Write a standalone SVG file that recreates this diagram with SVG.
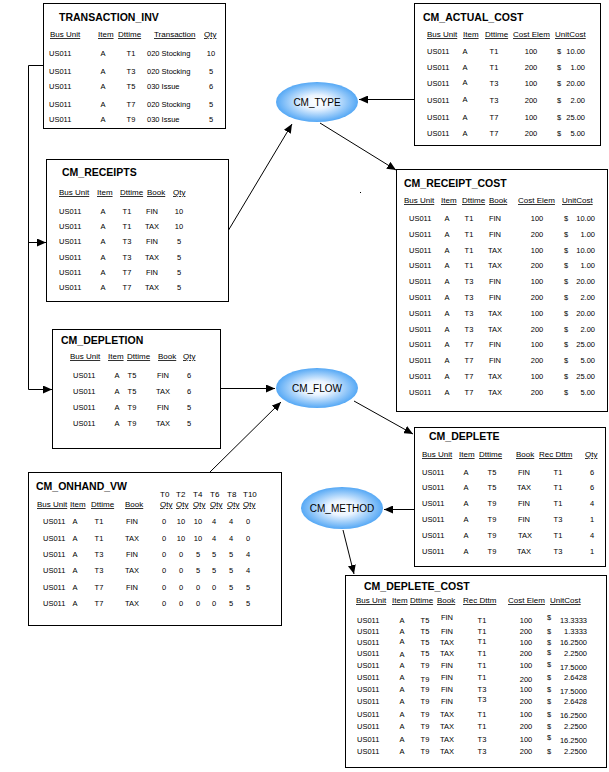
<svg xmlns="http://www.w3.org/2000/svg" width="609" height="772" viewBox="0 0 609 772">
<style>
text{font-family:"Liberation Sans",Arial,sans-serif;fill:#000}
.box{fill:#fff;stroke:#000;stroke-width:1}
.t{font-size:10.5px;font-weight:bold}
.h{font-size:8px;text-decoration:underline}
.h2{font-size:8px}
.d{font-size:7.5px}
.m{text-anchor:middle}
.e{text-anchor:end}
.el{font-size:10px;text-anchor:middle}
.c{fill:none;stroke:#000;stroke-width:1;marker-end:url(#ah)}
.oval{fill:url(#g);stroke:none}
</style>
<defs>
<radialGradient id="g" cx="50%" cy="50%" r="50%">
<stop offset="0" stop-color="#ffffff"/>
<stop offset="0.35" stop-color="#eaf4ff"/>
<stop offset="1" stop-color="#55a8f5"/>
</radialGradient>
<marker id="ah" markerUnits="userSpaceOnUse" markerWidth="9" markerHeight="8" refX="9" refY="4" orient="auto">
<path d="M0,0 L9,4 L0,8 z" fill="#000"/>
</marker>
</defs>
<rect width="609" height="772" fill="#fff"/>

<g id="connectors">
<path class="c" d="M43,65.5 H28.5 V389.5 H52"/>
<path class="c" d="M28.5,242.5 H46"/>
<path class="c" d="M414,99.5 H359"/>
<path class="c" d="M228,231 L292,124"/>
<path class="c" d="M320,123 L396,170"/>
<path class="c" d="M220,388.5 H275"/>
<path class="c" d="M210,472 L281,402"/>
<path class="c" d="M354,401 L413,434"/>
<path class="c" d="M414,509.5 H384"/>
<path class="c" d="M343,530 L354,574"/>
</g>
<rect x="360" y="192" width="1" height="1" fill="#000"/>

<g id="CM_TYPE">
<ellipse class="oval" cx="317" cy="102" rx="41" ry="20"/>
<text class="el" x="317" y="106">CM_TYPE</text>
</g>
<g id="CM_FLOW">
<ellipse class="oval" cx="317" cy="388" rx="41" ry="20"/>
<text class="el" x="317" y="392">CM_FLOW</text>
</g>
<g id="CM_METHOD">
<ellipse class="oval" cx="342" cy="508" rx="41" ry="21"/>
<text class="el" x="342" y="512">CM_METHOD</text>
</g>

<g id="TRANSACTION_INV">
<rect class="box" x="43.5" y="3.5" width="182" height="125"/>
<text class="t" x="59" y="21">TRANSACTION_INV</text>
<text class="h" x="50" y="37">Bus Unit</text><text class="h" x="98" y="37">Item</text><text class="h" x="118" y="37">Dttime</text><text class="h" x="154" y="37">Transaction</text><text class="h" x="204" y="37">Qty</text>
<text class="d" x="49" y="56">US011</text><text class="d m" x="103" y="56">A</text><text class="d m" x="131" y="56">T1</text><text class="d" x="147" y="56">020 Stocking</text><text class="d m" x="211" y="56">10</text>
<text class="d" x="49" y="74">US011</text><text class="d m" x="103" y="74">A</text><text class="d m" x="131" y="74">T3</text><text class="d" x="147" y="74">020 Stocking</text><text class="d m" x="211" y="74">5</text>
<text class="d" x="49" y="89">US011</text><text class="d m" x="103" y="89">A</text><text class="d m" x="131" y="89">T5</text><text class="d" x="147" y="89">030 Issue</text><text class="d m" x="211" y="89">6</text>
<text class="d" x="49" y="107">US011</text><text class="d m" x="103" y="107">A</text><text class="d m" x="131" y="107">T7</text><text class="d" x="147" y="107">020 Stocking</text><text class="d m" x="211" y="107">5</text>
<text class="d" x="49" y="122">US011</text><text class="d m" x="103" y="122">A</text><text class="d m" x="131" y="122">T9</text><text class="d" x="147" y="122">030 Issue</text><text class="d m" x="211" y="122">5</text>
</g>

<g id="CM_ACTUAL_COST">
<rect class="box" x="414.5" y="3.5" width="186" height="142"/>
<text class="t" x="423" y="21">CM_ACTUAL_COST</text>
<text class="h" x="427" y="37">Bus Unit</text><text class="h" x="463" y="37">Item</text><text class="h" x="485" y="37">Dttime</text><text class="h" x="513" y="37">Cost Elem</text><text class="h" x="555" y="37">UnitCost</text>
<text class="d" x="427" y="54">US011</text><text class="d m" x="465" y="54">A</text><text class="d m" x="494" y="54">T1</text><text class="d m" x="531" y="54">100</text><text class="d" x="557" y="54">$</text><text class="d e" x="585" y="54">10.00</text>
<text class="d" x="427" y="70">US011</text><text class="d m" x="465" y="70">A</text><text class="d m" x="494" y="70">T1</text><text class="d m" x="531" y="70">200</text><text class="d" x="557" y="70">$</text><text class="d e" x="585" y="70">1.00</text>
<text class="d" x="427" y="86">US011</text><text class="d m" x="465" y="85">A</text><text class="d m" x="494" y="86">T3</text><text class="d m" x="531" y="86">100</text><text class="d" x="557" y="86">$</text><text class="d e" x="585" y="86">20.00</text>
<text class="d" x="427" y="103">US011</text><text class="d m" x="465" y="102">A</text><text class="d m" x="494" y="103">T3</text><text class="d m" x="531" y="103">200</text><text class="d" x="557" y="103">$</text><text class="d e" x="585" y="103">2.00</text>
<text class="d" x="427" y="120">US011</text><text class="d m" x="465" y="120">A</text><text class="d m" x="494" y="120">T7</text><text class="d m" x="531" y="120">100</text><text class="d" x="557" y="120">$</text><text class="d e" x="585" y="120">25.00</text>
<text class="d" x="427" y="136">US011</text><text class="d m" x="465" y="136">A</text><text class="d m" x="494" y="136">T7</text><text class="d m" x="531" y="136">200</text><text class="d" x="557" y="136">$</text><text class="d e" x="585" y="136">5.00</text>
</g>

<g id="CM_RECEIPTS">
<rect class="box" x="46.5" y="159.5" width="182" height="142"/>
<text class="t" x="62" y="176">CM_RECEIPTS</text>
<text class="h" x="59" y="195">Bus Unit</text><text class="h" x="97" y="195">Item</text><text class="h" x="120" y="195">Dttime</text><text class="h" x="147" y="195">Book</text><text class="h" x="173" y="195">Qty</text>
<text class="d" x="59" y="214">US011</text><text class="d m" x="103" y="214">A</text><text class="d m" x="127" y="214">T1</text><text class="d m" x="152" y="214">FIN</text><text class="d m" x="179" y="214">10</text>
<text class="d" x="59" y="229">US011</text><text class="d m" x="103" y="229">A</text><text class="d m" x="127" y="229">T1</text><text class="d m" x="152" y="229">TAX</text><text class="d m" x="179" y="229">10</text>
<text class="d" x="59" y="244">US011</text><text class="d m" x="103" y="244">A</text><text class="d m" x="127" y="244">T3</text><text class="d m" x="152" y="244">FIN</text><text class="d m" x="179" y="244">5</text>
<text class="d" x="59" y="260">US011</text><text class="d m" x="103" y="260">A</text><text class="d m" x="127" y="260">T3</text><text class="d m" x="152" y="260">TAX</text><text class="d m" x="179" y="260">5</text>
<text class="d" x="59" y="275">US011</text><text class="d m" x="103" y="275">A</text><text class="d m" x="127" y="275">T7</text><text class="d m" x="152" y="275">FIN</text><text class="d m" x="179" y="275">5</text>
<text class="d" x="59" y="290">US011</text><text class="d m" x="103" y="290">A</text><text class="d m" x="127" y="290">T7</text><text class="d m" x="152" y="290">TAX</text><text class="d m" x="179" y="290">5</text>
</g>

<g id="CM_RECEIPT_COST">
<rect class="box" x="396.5" y="169.5" width="211" height="242"/>
<text class="t" x="404" y="187">CM_RECEIPT_COST</text>
<text class="h" x="404" y="203">Bus Unit</text><text class="h" x="441" y="203">Item</text><text class="h" x="462" y="203">Dttime</text><text class="h" x="489" y="203">Book</text><text class="h" x="518" y="203">Cost Elem</text><text class="h" x="562" y="203">UnitCost</text>
<text class="d" x="409" y="221">US011</text><text class="d m" x="447" y="221">A</text><text class="d m" x="469" y="221">T1</text><text class="d m" x="495" y="221">FIN</text><text class="d m" x="537" y="221">100</text><text class="d" x="564" y="221">$</text><text class="d e" x="595" y="221">10.00</text>
<text class="d" x="409" y="236.5">US011</text><text class="d m" x="447" y="236.5">A</text><text class="d m" x="469" y="236.5">T1</text><text class="d m" x="495" y="236.5">FIN</text><text class="d m" x="537" y="236.5">200</text><text class="d" x="564" y="236.5">$</text><text class="d e" x="595" y="236.5">1.00</text>
<text class="d" x="409" y="252.5">US011</text><text class="d m" x="447" y="252.5">A</text><text class="d m" x="469" y="252.5">T1</text><text class="d m" x="495" y="252.5">TAX</text><text class="d m" x="537" y="252.5">100</text><text class="d" x="564" y="252.5">$</text><text class="d e" x="595" y="252.5">10.00</text>
<text class="d" x="409" y="268">US011</text><text class="d m" x="447" y="268">A</text><text class="d m" x="469" y="268">T1</text><text class="d m" x="495" y="268">TAX</text><text class="d m" x="537" y="268">200</text><text class="d" x="564" y="268">$</text><text class="d e" x="595" y="268">1.00</text>
<text class="d" x="409" y="284">US011</text><text class="d m" x="447" y="284">A</text><text class="d m" x="469" y="284">T3</text><text class="d m" x="495" y="284">FIN</text><text class="d m" x="537" y="284">100</text><text class="d" x="564" y="284">$</text><text class="d e" x="595" y="284">20.00</text>
<text class="d" x="409" y="300">US011</text><text class="d m" x="447" y="300">A</text><text class="d m" x="469" y="300">T3</text><text class="d m" x="495" y="300">FIN</text><text class="d m" x="537" y="300">200</text><text class="d" x="564" y="300">$</text><text class="d e" x="595" y="300">2.00</text>
<text class="d" x="409" y="315.5">US011</text><text class="d m" x="447" y="315.5">A</text><text class="d m" x="469" y="315.5">T3</text><text class="d m" x="495" y="315.5">TAX</text><text class="d m" x="537" y="315.5">100</text><text class="d" x="564" y="315.5">$</text><text class="d e" x="595" y="315.5">20.00</text>
<text class="d" x="409" y="331.5">US011</text><text class="d m" x="447" y="331.5">A</text><text class="d m" x="469" y="331.5">T3</text><text class="d m" x="495" y="331.5">TAX</text><text class="d m" x="537" y="331.5">200</text><text class="d" x="564" y="331.5">$</text><text class="d e" x="595" y="331.5">2.00</text>
<text class="d" x="409" y="347">US011</text><text class="d m" x="447" y="347">A</text><text class="d m" x="469" y="347">T7</text><text class="d m" x="495" y="347">FIN</text><text class="d m" x="537" y="347">100</text><text class="d" x="564" y="347">$</text><text class="d e" x="595" y="347">25.00</text>
<text class="d" x="409" y="363">US011</text><text class="d m" x="447" y="363">A</text><text class="d m" x="469" y="363">T7</text><text class="d m" x="495" y="363">FIN</text><text class="d m" x="537" y="363">200</text><text class="d" x="564" y="363">$</text><text class="d e" x="595" y="363">5.00</text>
<text class="d" x="409" y="379">US011</text><text class="d m" x="447" y="379">A</text><text class="d m" x="469" y="379">T7</text><text class="d m" x="495" y="379">TAX</text><text class="d m" x="537" y="379">100</text><text class="d" x="564" y="379">$</text><text class="d e" x="595" y="379">25.00</text>
<text class="d" x="409" y="394.5">US011</text><text class="d m" x="447" y="394.5">A</text><text class="d m" x="469" y="394.5">T7</text><text class="d m" x="495" y="394.5">TAX</text><text class="d m" x="537" y="394.5">200</text><text class="d" x="564" y="394.5">$</text><text class="d e" x="595" y="394.5">5.00</text>
</g>

<g id="CM_DEPLETION">
<rect class="box" x="52.5" y="329.5" width="168" height="119"/>
<text class="t" x="61" y="344">CM_DEPLETION</text>
<text class="h" x="70" y="359">Bus Unit</text><text class="h" x="108" y="359">Item</text><text class="h" x="127" y="359">Dttime</text><text class="h" x="158" y="359">Book</text><text class="h" x="183" y="359">Qty</text>
<text class="d" x="73" y="377.5">US011</text><text class="d m" x="117" y="377.5">A</text><text class="d m" x="132" y="377.5">T5</text><text class="d m" x="163" y="377.5">FIN</text><text class="d m" x="189" y="377.5">6</text>
<text class="d" x="73" y="393.5">US011</text><text class="d m" x="117" y="393.5">A</text><text class="d m" x="132" y="393.5">T5</text><text class="d m" x="163" y="393.5">TAX</text><text class="d m" x="189" y="393.5">6</text>
<text class="d" x="73" y="409.5">US011</text><text class="d m" x="117" y="409.5">A</text><text class="d m" x="132" y="409.5">T9</text><text class="d m" x="163" y="409.5">FIN</text><text class="d m" x="189" y="409.5">5</text>
<text class="d" x="73" y="425.5">US011</text><text class="d m" x="117" y="425.5">A</text><text class="d m" x="132" y="425.5">T9</text><text class="d m" x="163" y="425.5">TAX</text><text class="d m" x="189" y="425.5">5</text>
</g>

<g id="CM_ONHAND_VW">
<rect class="box" x="28.5" y="472.5" width="253" height="153"/>
<text class="t" x="36" y="490">CM_ONHAND_VW</text>
<text class="h2" x="160" y="497">T0</text><text class="h2" x="176" y="497">T2</text><text class="h2" x="193" y="497">T4</text><text class="h2" x="210" y="497">T6</text><text class="h2" x="227" y="497">T8</text><text class="h2" x="243" y="497">T10</text>
<text class="h" x="37" y="507">Bus Unit</text><text class="h" x="70" y="507">Item</text><text class="h" x="91" y="507">Dttime</text><text class="h" x="125" y="507">Book</text>
<text class="h" x="160" y="507">Qty</text><text class="h" x="176" y="507">Qty</text><text class="h" x="193" y="507">Qty</text><text class="h" x="210" y="507">Qty</text><text class="h" x="227" y="507">Qty</text><text class="h" x="243" y="507">Qty</text>
<text class="d" x="43" y="524">US011</text><text class="d m" x="75" y="524">A</text><text class="d m" x="99" y="524">T1</text><text class="d m" x="132" y="524">FIN</text><text class="d m" x="164" y="524">0</text><text class="d m" x="181" y="524">10</text><text class="d m" x="198" y="524">10</text><text class="d m" x="214" y="524">4</text><text class="d m" x="231" y="524">4</text><text class="d m" x="248" y="524">0</text>
<text class="d" x="43" y="540.5">US011</text><text class="d m" x="75" y="540.5">A</text><text class="d m" x="99" y="540.5">T1</text><text class="d m" x="132" y="540.5">TAX</text><text class="d m" x="164" y="540.5">0</text><text class="d m" x="181" y="540.5">10</text><text class="d m" x="198" y="540.5">10</text><text class="d m" x="214" y="540.5">4</text><text class="d m" x="231" y="540.5">4</text><text class="d m" x="248" y="540.5">0</text>
<text class="d" x="43" y="557">US011</text><text class="d m" x="75" y="557">A</text><text class="d m" x="99" y="557">T3</text><text class="d m" x="132" y="557">FIN</text><text class="d m" x="164" y="557">0</text><text class="d m" x="181" y="557">0</text><text class="d m" x="198" y="557">5</text><text class="d m" x="214" y="557">5</text><text class="d m" x="231" y="557">5</text><text class="d m" x="248" y="557">4</text>
<text class="d" x="43" y="573">US011</text><text class="d m" x="75" y="573">A</text><text class="d m" x="99" y="573">T3</text><text class="d m" x="132" y="573">TAX</text><text class="d m" x="164" y="573">0</text><text class="d m" x="181" y="573">0</text><text class="d m" x="198" y="573">5</text><text class="d m" x="214" y="573">5</text><text class="d m" x="231" y="573">5</text><text class="d m" x="248" y="573">4</text>
<text class="d" x="43" y="590">US011</text><text class="d m" x="75" y="590">A</text><text class="d m" x="99" y="590">T7</text><text class="d m" x="132" y="590">FIN</text><text class="d m" x="164" y="590">0</text><text class="d m" x="181" y="590">0</text><text class="d m" x="198" y="590">0</text><text class="d m" x="214" y="590">0</text><text class="d m" x="231" y="590">5</text><text class="d m" x="248" y="590">5</text>
<text class="d" x="43" y="606">US011</text><text class="d m" x="75" y="606">A</text><text class="d m" x="99" y="606">T7</text><text class="d m" x="132" y="606">TAX</text><text class="d m" x="164" y="606">0</text><text class="d m" x="181" y="606">0</text><text class="d m" x="198" y="606">0</text><text class="d m" x="214" y="606">0</text><text class="d m" x="231" y="606">5</text><text class="d m" x="248" y="606">5</text>
</g>

<g id="CM_DEPLETE">
<rect class="box" x="414.5" y="427.5" width="191" height="139"/>
<text class="t" x="429" y="440">CM_DEPLETE</text>
<text class="h" x="422" y="457">Bus Unit</text><text class="h" x="459" y="457">Item</text><text class="h" x="479" y="457">Dttime</text><text class="h" x="516" y="457">Book</text><text class="h" x="539" y="457">Rec Dttm</text><text class="h" x="585" y="457">Qty</text>
<text class="d" x="422" y="474.5">US011</text><text class="d m" x="466" y="474.5">A</text><text class="d m" x="492" y="474.5">T5</text><text class="d m" x="524" y="474.5">FIN</text><text class="d m" x="558" y="474.5">T1</text><text class="d m" x="592" y="474.5">6</text>
<text class="d" x="422" y="489.5">US011</text><text class="d m" x="466" y="489.5">A</text><text class="d m" x="492" y="489.5">T5</text><text class="d m" x="524" y="489.5">TAX</text><text class="d m" x="558" y="489.5">T1</text><text class="d m" x="592" y="489.5">6</text>
<text class="d" x="422" y="505.5">US011</text><text class="d m" x="466" y="505.5">A</text><text class="d m" x="492" y="505.5">T9</text><text class="d m" x="524" y="505.5">FIN</text><text class="d m" x="558" y="505.5">T1</text><text class="d m" x="592" y="505.5">4</text>
<text class="d" x="422" y="521.5">US011</text><text class="d m" x="466" y="521.5">A</text><text class="d m" x="492" y="521.5">T9</text><text class="d m" x="524" y="521.5">FIN</text><text class="d m" x="558" y="521.5">T3</text><text class="d m" x="592" y="521.5">1</text>
<text class="d" x="422" y="537.5">US011</text><text class="d m" x="466" y="537.5">A</text><text class="d m" x="492" y="537.5">T9</text><text class="d m" x="525" y="537.5">TAX</text><text class="d m" x="558" y="537.5">T1</text><text class="d m" x="592" y="537.5">4</text>
<text class="d" x="422" y="553.5">US011</text><text class="d m" x="466" y="553.5">A</text><text class="d m" x="492" y="553.5">T9</text><text class="d m" x="524" y="553.5">TAX</text><text class="d m" x="558" y="553.5">T3</text><text class="d m" x="592" y="553.5">1</text>
</g>

<g id="CM_DEPLETE_COST">
<rect class="box" x="345.5" y="575.5" width="261" height="192"/>
<text class="t" x="364" y="590">CM_DEPLETE_COST</text>
<text class="h" x="356" y="603">Bus Unit</text><text class="h" x="392" y="603">Item</text><text class="h" x="410" y="603">Dttime</text><text class="h" x="437" y="603">Book</text><text class="h" x="463" y="603">Rec Dttm</text><text class="h" x="508" y="603">Cost Elem</text><text class="h" x="550" y="603">UnitCost</text>
<text class="d" x="357" y="622.5">US011</text><text class="d m" x="402" y="622.5">A</text><text class="d m" x="425" y="622.5">T5</text><text class="d m" x="447" y="620">FIN</text><text class="d m" x="482" y="622.5">T1</text><text class="d m" x="526" y="622.5">100</text><text class="d" x="547" y="620">$</text><text class="d e" x="587" y="622.5">13.3333</text>
<text class="d" x="357" y="634">US011</text><text class="d m" x="402" y="634">A</text><text class="d m" x="425" y="634">T5</text><text class="d m" x="447" y="634">FIN</text><text class="d m" x="482" y="634">T1</text><text class="d m" x="526" y="634">200</text><text class="d" x="547" y="634">$</text><text class="d e" x="587" y="634">1.3333</text>
<text class="d" x="357" y="645">US011</text><text class="d m" x="402" y="643.5">A</text><text class="d m" x="425" y="645">T5</text><text class="d m" x="447" y="645">TAX</text><text class="d m" x="482" y="643.5">T1</text><text class="d m" x="526" y="645">100</text><text class="d" x="547" y="645">$</text><text class="d e" x="587" y="645">16.2500</text>
<text class="d" x="357" y="656">US011</text><text class="d m" x="402" y="657">A</text><text class="d m" x="425" y="656">T5</text><text class="d m" x="447" y="656">TAX</text><text class="d m" x="482" y="656">T1</text><text class="d m" x="526" y="656">200</text><text class="d" x="547" y="655">$</text><text class="d e" x="587" y="656">2.2500</text>
<text class="d" x="357" y="668">US011</text><text class="d m" x="402" y="668">A</text><text class="d m" x="425" y="668">T9</text><text class="d m" x="447" y="668">FIN</text><text class="d m" x="482" y="668">T1</text><text class="d m" x="526" y="668">100</text><text class="d" x="547" y="667">$</text><text class="d e" x="587" y="669.5">17.5000</text>
<text class="d" x="357" y="680">US011</text><text class="d m" x="402" y="680">A</text><text class="d m" x="425" y="681.5">T9</text><text class="d m" x="447" y="680">FIN</text><text class="d m" x="482" y="680">T1</text><text class="d m" x="526" y="681.5">200</text><text class="d" x="547" y="680">$</text><text class="d e" x="587" y="680">2.6428</text>
<text class="d" x="357" y="692">US011</text><text class="d m" x="402" y="692">A</text><text class="d m" x="425" y="692">T9</text><text class="d m" x="447" y="692">FIN</text><text class="d m" x="482" y="692">T3</text><text class="d m" x="526" y="692">100</text><text class="d" x="547" y="692">$</text><text class="d e" x="587" y="694">17.5000</text>
<text class="d" x="357" y="703.5">US011</text><text class="d m" x="402" y="703.5">A</text><text class="d m" x="425" y="703.5">T9</text><text class="d m" x="447" y="703.5">FIN</text><text class="d m" x="482" y="701.5">T3</text><text class="d m" x="526" y="703.5">200</text><text class="d" x="547" y="703.5">$</text><text class="d e" x="587" y="703.5">2.6428</text>
<text class="d" x="357" y="716.5">US011</text><text class="d m" x="402" y="716.5">A</text><text class="d m" x="425" y="716.5">T9</text><text class="d m" x="447" y="716.5">TAX</text><text class="d m" x="482" y="716.5">T1</text><text class="d m" x="526" y="716.5">100</text><text class="d" x="547" y="716.5">$</text><text class="d e" x="587" y="717.5">16.2500</text>
<text class="d" x="357" y="729">US011</text><text class="d m" x="402" y="729">A</text><text class="d m" x="425" y="729">T9</text><text class="d m" x="447" y="729">TAX</text><text class="d m" x="482" y="729">T1</text><text class="d m" x="526" y="729">200</text><text class="d" x="547" y="729">$</text><text class="d e" x="587" y="729">2.2500</text>
<text class="d" x="357" y="741.5">US011</text><text class="d m" x="402" y="741.5">A</text><text class="d m" x="425" y="741.5">T9</text><text class="d m" x="447" y="741.5">TAX</text><text class="d m" x="482" y="741.5">T3</text><text class="d m" x="526" y="741.5">100</text><text class="d" x="547" y="740">$</text><text class="d e" x="587" y="742.5">16.2500</text>
<text class="d" x="357" y="753.5">US011</text><text class="d m" x="402" y="753.5">A</text><text class="d m" x="425" y="753.5">T9</text><text class="d m" x="447" y="753.5">TAX</text><text class="d m" x="482" y="753.5">T3</text><text class="d m" x="526" y="753.5">200</text><text class="d" x="547" y="753.5">$</text><text class="d e" x="587" y="753.5">2.2500</text>
</g>
</svg>
